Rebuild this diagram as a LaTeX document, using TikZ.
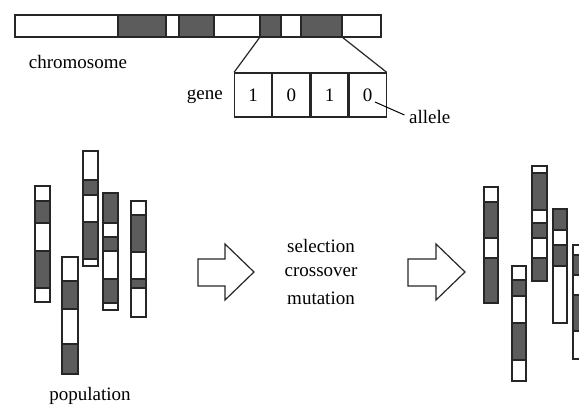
\documentclass[tikz,border=0pt]{standalone}
\usepackage{fontspec}
\setmainfont{Liberation Serif}
\begin{document}
\begin{tikzpicture}[x=1pt,y=-1pt,
  darkseg/.style={fill=black!64},
  barline/.style={draw=black!85,line width=1.2pt},
  cell/.style={draw=black!85,line width=1.2pt,rectangle,minimum width=37pt,minimum height=44pt,inner sep=0pt,anchor=west,font=\fontsize{19}{22}\selectfont},
  lbl/.style={font=\fontsize{19}{22}\selectfont,inner sep=0pt},
  bigarrow/.style={draw=black!85,line width=1.2pt,line join=miter}]
\useasboundingbox (0,0) rectangle (579,405);

% one chromosome: left, right, top, bottom, dark bands as top/bottom pairs
\newcommand{\chromo}[5]{%
  \foreach \a/\b in {#5} {\fill[darkseg] (#1,\a) rectangle (#2,\b);}
  \draw[barline] (#1,#3) rectangle (#2,#4);
  \foreach \a/\b in {#5} {\draw[barline] (#1,\a) -- (#2,\a) (#1,\b) -- (#2,\b);}
}

% long chromosome at the top
\foreach \a/\b in {118/166,179/214,260/281,301/342}
  {\fill[darkseg] (\a,15) rectangle (\b,37);
   \draw[barline] (\a,15) -- (\a,37) (\b,15) -- (\b,37);}
\draw[barline] (15,15) rectangle (381,37);
\coordinate (gstart) at (260,37);
\coordinate (gend) at (342,37);
\node[lbl] (chrom) at (78,62) {chromosome};

% gene with its four alleles
\node[cell] (c1) at (234,95) {1};
\node[cell] (c2) at (c1.east) {0};
\node[cell] (c3) at (c2.east) {1};
\node[cell] (c4) at (c3.east) {0};
\node[lbl,anchor=east] (gene) at (223,97) {gene};
\draw[barline] (gstart) -- (c1.north west);
\draw[barline] (gend) -- (c4.north east);
\node[lbl,anchor=west] (allele) at (409,117) {allele};
\coordinate (allelept) at (375,102);
\draw[line width=1pt,shorten >=5pt] (allelept) -- (allele.west);

% population before
\chromo{35}{50}{186}{302}{201/223,251/288}
\chromo{62}{78}{257}{374}{281/309,344/374}
\chromo{83}{98}{151}{266}{180/195,222/259}
\chromo{103}{118}{193}{310}{193/223,237/251,279/303}
\chromo{131}{146}{201}{317}{215/252,279/288}
\node[lbl] (pop) at (90,396) {population};

% operators
\draw[bigarrow] (198,259) -- (225,259) -- (225,244) -- (254,272) -- (225,300) -- (225,286) -- (198,286) -- cycle;
\node[lbl] (sel) at (321,246) {selection};
\node[lbl] (cro) at (321,272) {crossover};
\node[lbl] (mut) at (321,298) {mutation};
\draw[bigarrow] (408,259) -- (436,259) -- (436,244) -- (465,272) -- (436,300) -- (436,286) -- (408,286) -- cycle;

% population after
\chromo{484}{498}{187}{303}{202/238,258/303}
\chromo{512}{526}{266}{381}{280/296,323/360}
\chromo{532}{547}{166}{281}{173/210,223/238,258/281}
\chromo{553}{567}{209}{323}{209/230,245/266}
\chromo{573}{588}{245}{359}{255/275,295/331}
\end{tikzpicture}
\end{document}
